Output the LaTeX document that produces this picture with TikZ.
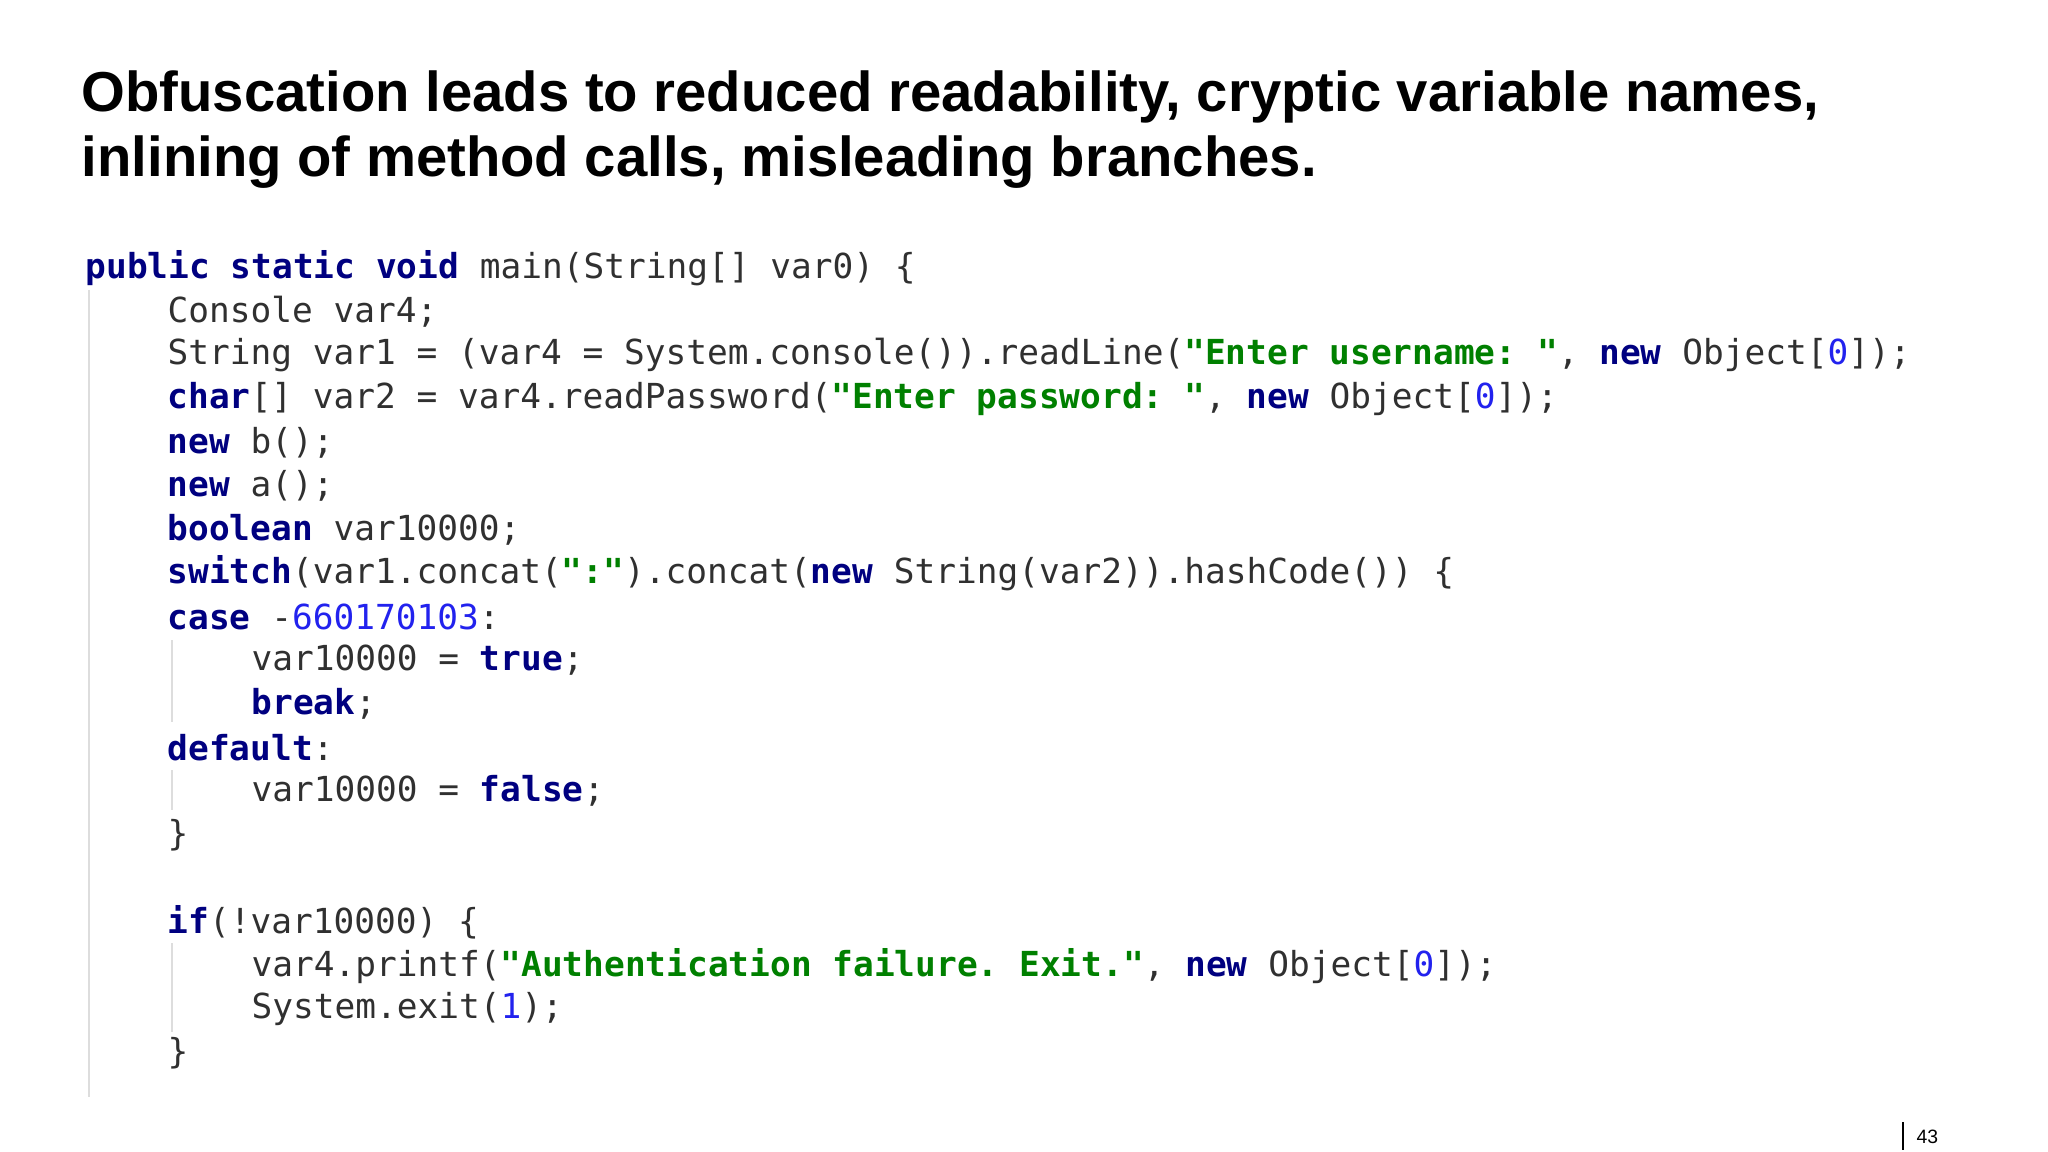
\documentclass[tikz,border=0pt]{standalone}
\usepackage{fontspec}
\setmainfont{Liberation Sans}
\setmonofont{DejaVu Sans Mono}
\definecolor{kwc}{HTML}{000080}
\definecolor{strc}{HTML}{008000}
\definecolor{numc}{HTML}{2222EE}
\definecolor{txt}{HTML}{303030}
\definecolor{guide}{HTML}{DDDDDD}
\newcommand{\kw}[1]{\textcolor{kwc}{\bfseries #1}}
\newcommand{\st}[1]{\textcolor{strc}{\bfseries #1}}
\newcommand{\nm}[1]{\textcolor{numc}{#1}}
\newcommand{\codeline}[3]{\node[code] (l#1) at (#2,{268+43.6*#1}) {#3};}
\begin{document}
\begin{tikzpicture}[x=0.01cm,y=-0.01cm,
  code/.style={anchor=west,inner sep=0pt,font=\ttfamily\fontsize{9.8pt}{11pt}\selectfont,text=txt},
  titl/.style={anchor=west,inner sep=0pt,font=\bfseries\fontsize{16pt}{20pt}\selectfont,text=black},
  gl/.style={draw=guide,line width=0.6pt}]
\useasboundingbox[fill=white] (0,0) rectangle (2048,1152);
\node[titl] (t1) at (81,97) {Obfuscation leads to reduced readability, cryptic variable names,};
\node[titl] (t2) at (81,162) {inlining of method calls, misleading branches.};
\def\A{85}\def\B{167}\def\C{251}
\codeline{0}{\A}{\kw{public static void} main(String[] var0) \{}
\codeline{1}{\B}{Console var4;}
\codeline{2}{\B}{String var1 = (var4 = System.console()).readLine(\st{"Enter username: "}, \kw{new} Object[\nm{0}]);}
\codeline{3}{\B}{\kw{char}[] var2 = var4.readPassword(\st{"Enter password: "}, \kw{new} Object[\nm{0}]);}
\codeline{4}{\B}{\kw{new} b();}
\codeline{5}{\B}{\kw{new} a();}
\codeline{6}{\B}{\kw{boolean} var10000;}
\codeline{7}{\B}{\kw{switch}(var1.concat(\st{":"}).concat(\kw{new} String(var2)).hashCode()) \{}
\codeline{8}{\B}{\kw{case} -\nm{660170103}:}
\codeline{9}{\C}{var10000 = \kw{true};}
\codeline{10}{\C}{\kw{break};}
\codeline{11}{\B}{\kw{default}:}
\codeline{12}{\C}{var10000 = \kw{false};}
\codeline{13}{\B}{\}}
\codeline{15}{\B}{\kw{if}(!var10000) \{}
\codeline{16}{\C}{var4.printf(\st{"Authentication failure. Exit."}, \kw{new} Object[\nm{0}]);}
\codeline{17}{\C}{System.exit(\nm{1});}
\codeline{18}{\B}{\}}
\draw[gl] (89,290) -- (89,1097);
\draw[gl] (172,640) -- (172,722);
\draw[gl] (172,770) -- (172,810);
\draw[gl] (172,943) -- (172,1032);
\draw[black,line width=0.8pt] (1903,1122) -- (1903,1150);
\node[anchor=west,inner sep=0pt,font=\fontsize{5.5pt}{7pt}\selectfont] (pg) at (1916,1137) {43};
\end{tikzpicture}
\end{document}
